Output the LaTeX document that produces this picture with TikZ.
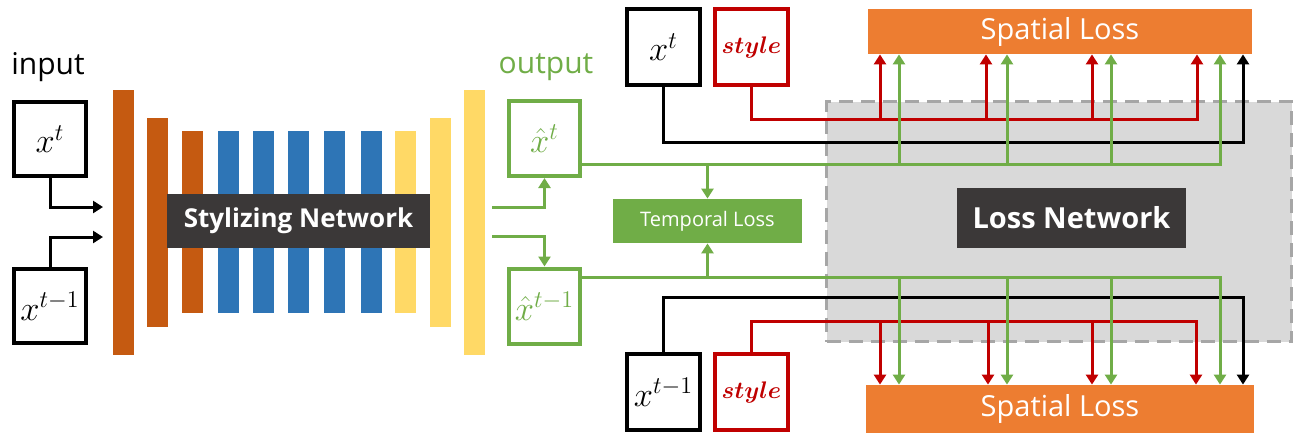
\documentclass[tikz,border=0pt]{standalone}
\usepackage{bm}
\usepackage{fontspec}
\setmainfont{Open Sans}
\usetikzlibrary{arrows.meta}
\definecolor{dorange}{HTML}{C55A11}
\definecolor{bblue}{HTML}{2E75B6}
\definecolor{yel}{HTML}{FFD966}
\definecolor{grn}{HTML}{70AD47}
\definecolor{org}{HTML}{ED7D31}
\definecolor{rd}{HTML}{C00000}
\definecolor{dgray}{HTML}{3B3838}
\definecolor{lgray}{HTML}{D9D9D9}
\definecolor{mgray}{HTML}{A6A6A6}
\tikzset{
  tip/.style={-{Triangle[width=6pt,length=5pt]}},
  bar/.style={draw=none,inner sep=0pt,minimum width=10.5pt},
  inbox/.style={draw=black,line width=2pt,fill=white,minimum width=36pt,minimum height=37pt,inner sep=0pt,font=\fontsize{18}{20}\selectfont},
  outbox/.style={draw=grn,line width=2pt,fill=white,minimum width=35.5pt,minimum height=37.5pt,inner sep=0pt,text=grn,font=\fontsize{18}{20}\selectfont},
  stybox/.style={draw=rd,line width=2pt,fill=white,minimum width=36.5pt,minimum height=38pt,inner sep=0pt,text=rd,font=\fontsize{12.5}{14}\selectfont},
  darkbox/.style={fill=dgray,text=white,inner sep=0pt,font=\bfseries},
  lossbox/.style={fill=org,text=white,inner sep=0pt,font=\fontsize{14.5}{16}\selectfont},
  kl/.style={draw=black,line width=1.5pt},
  rl/.style={draw=rd,line width=1.5pt},
  gl/.style={draw=grn,line width=1.5pt},
}
\begin{document}
\begin{tikzpicture}[x=0.5pt,y=-0.5pt]
\useasboundingbox (0,0) rectangle (1302,435);
% loss network background
\node[draw=mgray,fill=lgray,line width=1.5pt,dash pattern=on 7pt off 4pt,minimum width=232.5pt,minimum height=120pt,inner sep=0pt] (lnbg) at (1059,221.5) {};
% bars
\node[bar,fill=dorange,minimum height=132.5pt] (b1) at (123,222.5) {};
\node[bar,fill=dorange,minimum height=104.5pt] (b2) at (157.5,222.5) {};
\node[bar,fill=dorange,minimum height=91pt] (b3) at (192.5,222) {};
\node[bar,fill=bblue,minimum height=91pt] (b4) at (228,222) {};
\node[bar,fill=bblue,minimum height=91pt] (b5) at (263,222) {};
\node[bar,fill=bblue,minimum height=91pt] (b6) at (298,222) {};
\node[bar,fill=bblue,minimum height=91pt] (b7) at (334,222) {};
\node[bar,fill=bblue,minimum height=91pt] (b8) at (371.5,222) {};
\node[bar,fill=yel,minimum height=91pt] (b9) at (405,222) {};
\node[bar,fill=yel,minimum height=104.5pt] (b10) at (440.5,222.5) {};
\node[bar,fill=yel,minimum height=132.5pt] (b11) at (474.5,222.5) {};
\node[darkbox,minimum width=131.5pt,minimum height=27pt,font=\bfseries\fontsize{13}{15}\selectfont] (sn) at (298.5,221) {Stylizing Network};
% labels
\node[font=\fontsize{15}{17}\selectfont,inner sep=0pt] (inlab) at (48,67) {input};
\node[font=\fontsize{15}{17}\selectfont,inner sep=0pt,text=grn] (outlab) at (546,67) {output};
% input boxes
\node[inbox] (xt) at (50,139) {$x^{t}$};
\node[inbox] (xt1) at (50,306) {$x^{t-1}$};
\coordinate (a1) at (103,207);
\coordinate (a2) at (103,237);
\draw[kl,tip] (xt.south) |- (a1);
\draw[kl,tip] (xt1.north) |- (a2);
% output boxes
\node[outbox] (oxt) at (544.5,138.5) {$\hat{x}^{t}$};
\node[outbox] (oxt1) at (544.5,306) {$\hat{x}^{t-1}$};
\coordinate (g1) at (492,207);
\coordinate (g2) at (492,236);
\draw[gl,tip] (g1) -| (oxt.south);
\draw[gl,tip] (g2) -| (oxt1.north);
% top inputs
\node[inbox,minimum width=36.5pt,minimum height=38pt] (txt) at (663.5,47) {$x^{t}$};
\node[stybox] (tsty) at (751.5,47) {$\bm{style}$};
\node[inbox,minimum width=36.5pt,minimum height=38pt] (bxt) at (663.5,392) {$x^{t-1}$};
\node[stybox] (bsty) at (751.5,392) {$\bm{style}$};
% spatial loss boxes
\node[lossbox,minimum width=192pt,minimum height=22.5pt] (sl1) at (1060,31.5) {Spatial Loss};
\node[lossbox,minimum width=194pt,minimum height=24pt] (sl2) at (1060,409) {Spatial Loss};
% temporal loss
\node[fill=grn,text=white,inner sep=0pt,minimum width=94.5pt,minimum height=22pt,font=\fontsize{10}{12}\selectfont] (tl) at (707.5,221) {Temporal Loss};
% top connectors
\coordinate (rT) at (1197,119);
\draw[rl,tip] (tsty.south) |- (rT) -- (rT |- sl1.south);
\foreach \n/\x in {1/880,2/986,3/1092}{
  \coordinate (r\n) at (\x,119);
  \draw[rl,tip] (r\n) -- (r\n |- sl1.south);
}
\coordinate (kT) at (1243,142);
\draw[kl,tip] (txt.south) |- (kT) -- (kT |- sl1.south);
\coordinate (gT) at (1220,164);
\draw[gl,tip] (gT -| oxt.east) -- (gT) -- (gT |- sl1.south);
\foreach \n/\x in {1/899,2/1007,3/1111}{
  \coordinate (gu\n) at (\x,164);
  \draw[gl,tip] (gu\n) -- (gu\n |- sl1.south);
}
\draw[gl,tip] (tl.north |- gT) -- (tl.north);
% bottom connectors
\coordinate (rB) at (1196,321);
\draw[rl,tip] (bsty.north) |- (rB) -- (rB |- sl2.north);
\foreach \n/\x in {1/880,2/988,3/1092}{
  \coordinate (rb\n) at (\x,321);
  \draw[rl,tip] (rb\n) -- (rb\n |- sl2.north);
}
\coordinate (kB) at (1243,297);
\draw[kl,tip] (bxt.north) |- (kB) -- (kB |- sl2.north);
\coordinate (gB) at (1220,277);
\draw[gl,tip] (gB -| oxt1.east) -- (gB) -- (gB |- sl2.north);
\foreach \n/\x in {1/899,2/1007,3/1111}{
  \coordinate (gd\n) at (\x,277);
  \draw[gl,tip] (gd\n) -- (gd\n |- sl2.north);
}
\draw[gl,tip] (tl.south |- gB) -- (tl.south);
% loss network label
\node[darkbox,minimum width=114.5pt,minimum height=30pt,font=\bfseries\fontsize{14.5}{16}\selectfont] (ln) at (1071.5,218) {Loss Network};
\end{tikzpicture}
\end{document}
